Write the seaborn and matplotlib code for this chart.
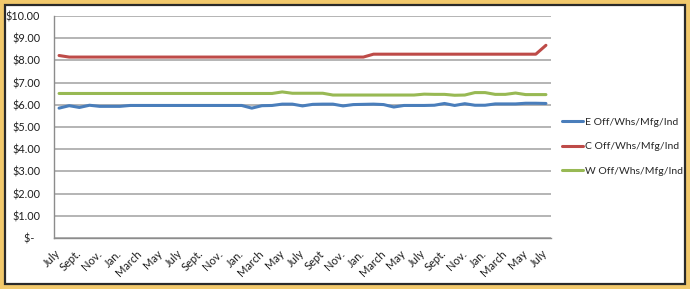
import numpy as np
import pandas as pd
import matplotlib
matplotlib.use("Agg")
import matplotlib.pyplot as plt
from matplotlib.patches import Rectangle
import seaborn as sns

# Monthly rents ($/sf), 49 months starting in July
E_VALUES = [5.85, 5.96, 5.88, 5.98, 5.93, 5.93, 5.93, 5.97, 5.97, 5.97,
            5.97, 5.97, 5.97, 5.97, 5.97, 5.97, 5.97, 5.97, 5.97, 5.85,
            5.96, 5.97, 6.03, 6.03, 5.95, 6.02, 6.03, 6.03, 5.95, 6.01,
            6.02, 6.03, 6.01, 5.90, 5.97, 5.97, 5.97, 5.98, 6.06, 5.97,
            6.05, 5.98, 5.98, 6.04, 6.04, 6.04, 6.07, 6.07, 6.06]
C_VALUES = [8.22, 8.15, 8.15, 8.15, 8.15, 8.15, 8.15, 8.15, 8.15, 8.15,
            8.15, 8.15, 8.15, 8.15, 8.15, 8.15, 8.15, 8.15, 8.15, 8.15,
            8.15, 8.15, 8.15, 8.15, 8.15, 8.15, 8.15, 8.15, 8.15, 8.15,
            8.15, 8.28, 8.28, 8.28, 8.28, 8.28, 8.28, 8.28, 8.28, 8.28,
            8.28, 8.28, 8.28, 8.28, 8.28, 8.28, 8.28, 8.28, 8.68]
W_VALUES = [6.51, 6.51, 6.51, 6.51, 6.51, 6.51, 6.51, 6.51, 6.51, 6.51,
            6.51, 6.51, 6.51, 6.51, 6.51, 6.51, 6.51, 6.51, 6.51, 6.51,
            6.51, 6.51, 6.58, 6.52, 6.52, 6.52, 6.52, 6.44, 6.44, 6.44,
            6.44, 6.44, 6.44, 6.44, 6.44, 6.44, 6.48, 6.47, 6.47, 6.43,
            6.44, 6.55, 6.55, 6.47, 6.47, 6.53, 6.46, 6.46, 6.46]
SERIES_NAMES = ['E Off/Whs/Mfg/Ind', 'C Off/Whs/Mfg/Ind', 'W Off/Whs/Mfg/Ind']
COLORS = ['#4A7EBB', '#BE4B48', '#98B954']

# every other month is labelled
TICK_LABELS = ['July', 'Sept.', 'Nov.', 'Jan.', 'March', 'May',
               'July', 'Sept.', 'Nov.', 'Jan.', 'March', 'May',
               'July', 'Sept', 'Nov.', 'Jan.', 'March', 'May',
               'July', 'Sept.', 'Nov.', 'Jan.', 'March', 'May', 'July']
Y_TICK_LABELS = ['$-  ', '$1.00', '$2.00', '$3.00', '$4.00', '$5.00',
                 '$6.00', '$7.00', '$8.00', '$9.00', '$10.00']

sns.set_style("white")
plt.rcParams['font.family'] = ['Lato', 'DejaVu Sans']

n = len(E_VALUES)
df = pd.DataFrame({
    'month': np.tile(np.arange(n), 3),
    'rent': E_VALUES + C_VALUES + W_VALUES,
    'series': np.repeat(SERIES_NAMES, n),
})

fig = plt.figure(figsize=(6.9, 2.89), dpi=100)
fig.patch.set_facecolor('#F2C96C')
fig.add_artist(Rectangle((5 / 690, 5 / 289), 680 / 690, 279 / 289,
                         transform=fig.transFigure, facecolor='white',
                         edgecolor='#2A2A2A', linewidth=1.6, zorder=-1))

ax = fig.add_axes([54 / 690, 51 / 289, 497 / 690, 222 / 289])
ax.patch.set_alpha(0)

sns.lineplot(data=df, x='month', y='rent', hue='series', hue_order=SERIES_NAMES,
             palette=COLORS, linewidth=2.2, ax=ax, legend=True, zorder=3)

ax.set_xlim(-0.5, n - 0.5)
ax.set_ylim(0, 10)
ax.set_yticks(np.arange(0, 11))
ax.set_yticklabels(Y_TICK_LABELS)
ax.set_xticks(np.arange(0, n, 2))
ax.set_xticklabels(TICK_LABELS, rotation=45, ha='right', va='center',
                   rotation_mode='anchor')
ax.set_xticks(np.arange(-0.5, n, 1), minor=True)
ax.tick_params(axis='x', which='major', length=0, pad=10, labelsize=8, labelcolor='#1E1E1E')
ax.tick_params(axis='x', which='minor', length=3, width=0.8, color='#8C8C8C', direction='out')
ax.tick_params(axis='y', length=3, width=0.8, color='#8C8C8C', direction='out',
               pad=7, labelsize=7.8, labelcolor='#1E1E1E')
ax.set_xlabel('')
ax.set_ylabel('')

ax.grid(axis='y', color='#A0A0A0', linewidth=1.1)
ax.set_axisbelow(True)
for side in ['top', 'right']:
    ax.spines[side].set_visible(False)
for side in ['left', 'bottom']:
    ax.spines[side].set_color('#8C8C8C')
    ax.spines[side].set_linewidth(1.0)

leg = ax.legend(loc='center left', bbox_to_anchor=(562 / 690, 0.492),
                bbox_transform=fig.transFigure, frameon=False, fontsize=7.5,
                handlelength=2.0, handletextpad=0.2, labelspacing=1.45,
                borderpad=0, borderaxespad=0)
for line in leg.get_lines():
    line.set_linewidth(2.2)

fig.savefig('out.png', dpi=100, facecolor=fig.get_facecolor())
